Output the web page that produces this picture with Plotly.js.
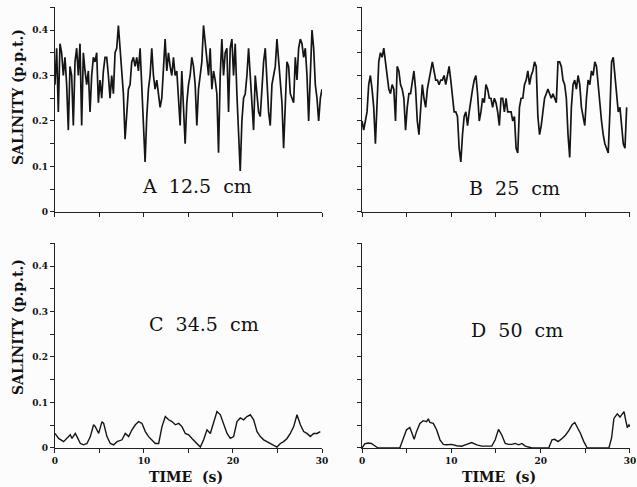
<!DOCTYPE html>
<html>
<head>
<meta charset="utf-8">
<script src="https://cdn.plot.ly/plotly-3.0.1.min.js"></script>
<style>
html,body{margin:0;padding:0;background:#fcfcfc;}
#chart{width:637px;height:487px;}
</style>
</head>
<body>
<div id="chart"></div>
<script>
// Panel labels
var panelLabels = ["A  12.5  cm", "B  25  cm", "C  34.5  cm", "D  50  cm"];
var xTitle = "TIME  (s)";
var yTitle = "SALINITY (p.p.t.)";

// A: 12.5 cm, sampled every 0.1875 s from t = 0
var salinityA = [
0.28,0.36,0.22,0.37,0.35,0.30,0.34,0.28,0.18,0.32,
0.30,0.19,0.33,0.36,0.30,0.37,0.19,0.35,0.31,0.28,
0.31,0.22,0.30,0.34,0.33,0.35,0.24,0.29,0.25,0.31,
0.34,0.34,0.30,0.25,0.30,0.26,0.35,0.36,0.41,0.36,
0.29,0.26,0.16,0.22,0.27,0.28,0.33,0.34,0.32,0.34,
0.31,0.36,0.28,0.20,0.11,0.21,0.27,0.30,0.36,0.30,
0.27,0.29,0.26,0.23,0.25,0.33,0.38,0.31,0.35,0.32,
0.30,0.34,0.30,0.31,0.25,0.19,0.31,0.22,0.15,0.24,
0.28,0.30,0.34,0.32,0.28,0.19,0.27,0.30,0.33,0.41,
0.37,0.34,0.30,0.36,0.27,0.31,0.29,0.26,0.13,0.30,
0.38,0.30,0.35,0.36,0.22,0.36,0.38,0.30,0.37,0.26,
0.16,0.09,0.20,0.25,0.26,0.30,0.36,0.30,0.24,0.18,
0.30,0.26,0.22,0.21,0.28,0.33,0.36,0.27,0.22,0.19,
0.28,0.30,0.32,0.38,0.33,0.27,0.24,0.14,0.25,0.33,
0.32,0.26,0.25,0.24,0.34,0.29,0.36,0.38,0.37,0.34,
0.36,0.30,0.20,0.30,0.40,0.36,0.28,0.25,0.20,0.25,
0.27];

// B: 25 cm, sampled every 0.1875 s from t = 0
var salinityB = [
0.20,0.18,0.20,0.22,0.28,0.30,0.27,0.23,0.15,0.25,
0.33,0.35,0.34,0.36,0.33,0.31,0.27,0.26,0.28,0.27,
0.20,0.32,0.31,0.28,0.27,0.25,0.18,0.23,0.26,0.26,
0.29,0.31,0.27,0.20,0.17,0.23,0.28,0.25,0.23,0.27,
0.29,0.31,0.33,0.31,0.29,0.29,0.28,0.29,0.29,0.30,
0.28,0.30,0.32,0.29,0.25,0.22,0.22,0.21,0.14,0.11,
0.17,0.21,0.22,0.19,0.22,0.25,0.27,0.29,0.30,0.26,
0.20,0.22,0.25,0.24,0.28,0.27,0.25,0.25,0.23,0.25,
0.24,0.22,0.19,0.25,0.25,0.22,0.25,0.22,0.22,0.22,
0.20,0.21,0.14,0.13,0.23,0.25,0.25,0.28,0.29,0.31,
0.28,0.30,0.31,0.33,0.32,0.21,0.17,0.19,0.22,0.25,
0.26,0.27,0.26,0.25,0.26,0.25,0.24,0.33,0.33,0.32,
0.29,0.28,0.25,0.17,0.12,0.23,0.28,0.29,0.27,0.30,
0.28,0.23,0.21,0.19,0.25,0.29,0.28,0.31,0.30,0.33,
0.32,0.28,0.23,0.20,0.17,0.15,0.14,0.13,0.22,0.33,
0.34,0.30,0.26,0.22,0.23,0.19,0.15,0.14,0.23];

// C: 34.5 cm
var timeC = [0.0,0.41,0.97,1.35,1.72,1.91,2.28,2.47,2.85,3.22,3.60,3.97,4.34,4.53,4.91,5.28,5.47,5.84,6.22,6.59,
6.97,7.53,7.90,8.28,8.65,9.03,9.40,9.78,10.15,10.52,10.90,11.27,11.65,12.02,12.40,12.77,13.15,13.52,13.90,14.27,
14.64,15.02,15.39,15.77,16.14,16.33,16.70,17.08,17.45,17.83,18.20,18.58,18.95,19.33,19.70,20.07,20.45,20.82,21.20,21.57,
21.95,22.32,22.70,23.07,23.45,23.82,24.19,24.57,24.94,25.32,25.69,26.07,26.44,26.82,27.19,27.57,27.94,28.31,28.69,29.06,
29.44,29.81];
var salinityC = [0.032,0.021,0.014,0.021,0.029,0.021,0.032,0.025,0.010,0.007,0.010,0.025,0.051,0.047,0.032,0.058,0.054,0.025,0.010,0.007,
0.014,0.018,0.032,0.025,0.040,0.051,0.058,0.054,0.036,0.025,0.018,0.010,0.010,0.047,0.069,0.062,0.058,0.051,0.054,0.047,
0.032,0.029,0.021,0.014,0.007,0.002,0.018,0.040,0.032,0.058,0.080,0.073,0.054,0.032,0.021,0.025,0.058,0.066,0.062,0.069,
0.073,0.062,0.036,0.025,0.018,0.014,0.010,0.007,0.002,0.010,0.014,0.021,0.032,0.047,0.073,0.051,0.036,0.032,0.025,0.032,
0.032,0.036];

// D: 50 cm
var timeD = [0.0,0.30,0.67,1.05,1.42,1.80,4.23,4.61,4.98,5.36,5.54,5.84,6.10,6.48,6.85,7.23,7.42,7.60,7.98,8.35,
8.73,9.10,9.48,10.04,10.60,11.16,11.72,12.28,12.85,13.41,14.53,14.91,15.28,15.66,16.03,16.40,16.78,17.15,17.53,17.90,
18.28,19.03,20.90,21.27,21.57,21.95,22.40,22.77,23.15,23.52,23.82,24.08,24.46,24.83,25.21,27.64,27.94,28.20,28.58,28.88,
29.14,29.33,29.51,29.70,29.89,30.0];
var salinityD = [0.0,0.009,0.011,0.010,0.005,0.0,0.0,0.020,0.040,0.045,0.036,0.019,0.036,0.054,0.060,0.058,0.064,0.056,0.054,0.040,
0.018,0.008,0.007,0.008,0.005,0.004,0.008,0.012,0.007,0.004,0.004,0.018,0.041,0.028,0.010,0.008,0.008,0.010,0.007,0.010,
0.004,0.0,0.0,0.018,0.019,0.014,0.021,0.028,0.038,0.051,0.056,0.047,0.032,0.014,0.0,0.0,0.022,0.065,0.075,0.068,
0.076,0.080,0.062,0.045,0.051,0.047];

var lineStyle = {color:'#151515', width:1.7, shape:'linear'};
var lineStyleLow = {color:'#151515', width:1.4, shape:'linear'};

var traces = [
  {type:'scatter', mode:'lines', y:salinityA, x0:0, dx:0.1875, xaxis:'x', yaxis:'y', line:lineStyle},
  {type:'scatter', mode:'lines', y:salinityB, x0:0, dx:0.1875, xaxis:'x2', yaxis:'y2', line:lineStyle},
  {type:'scatter', mode:'lines', x:timeC, y:salinityC, xaxis:'x3', yaxis:'y3', line:lineStyleLow},
  {type:'scatter', mode:'lines', x:timeD, y:salinityD, xaxis:'x4', yaxis:'y4', line:lineStyleLow}
];

var tickFont = {family:'DejaVu Serif', size:9, color:'#111', weight:'bold'};
function xAx(dom, anchor, labels){
  return {domain:dom, anchor:anchor, range:[0,30], showline:true, linecolor:'#222', linewidth:1.2,
    showgrid:false, zeroline:false, ticks:'outside', ticklen:4, tickwidth:1, tickcolor:'#222',
    dtick:10, tick0:0, showticklabels:labels, tickfont:tickFont,
    minor:{dtick:5, tick0:0, ticks:'outside', ticklen:4, tickwidth:1, tickcolor:'#222'}};
}
function yAx(dom, anchor, labels){
  return {domain:dom, anchor:anchor, range:[0,0.45], showline:true, linecolor:'#222', linewidth:1.2,
    showgrid:false, zeroline:false, ticks:'outside', ticklen:4, tickwidth:1, tickcolor:'#222',
    dtick:0.1, tick0:0, showticklabels:labels, tickfont:tickFont,
    minor:{dtick:0.05, tick0:0, ticks:'outside', ticklen:4, tickwidth:1, tickcolor:'#222'}};
}

var leftDom = [0.0863, 0.5055], rightDom = [0.5683, 0.989];
var topDom = [0.5647, 0.9851], botDom = [0.0801, 0.5005];

var labelFont = {family:'DejaVu Serif', size:19, color:'#111'};
var titleFont = {family:'DejaVu Serif', size:14, color:'#111', weight:'bold'};

function ann(x, y, text, font, angle){
  return {xref:'paper', yref:'paper', x:x/637, y:1-y/487, xanchor:'center', yanchor:'middle',
    text:text, textangle:angle||0, showarrow:false, font:font};
}

var layout = {
  width:637, height:487,
  margin:{l:0, r:0, t:0, b:0},
  paper_bgcolor:'#fcfcfc', plot_bgcolor:'rgba(0,0,0,0)',
  showlegend:false,
  xaxis: xAx(leftDom, 'y', false),
  yaxis: yAx(topDom, 'x', true),
  xaxis2: xAx(rightDom, 'y2', false),
  yaxis2: yAx(topDom, 'x2', false),
  xaxis3: xAx(leftDom, 'y3', true),
  yaxis3: yAx(botDom, 'x3', true),
  xaxis4: xAx(rightDom, 'y4', true),
  yaxis4: yAx(botDom, 'x4', false),
  annotations: [
    {xref:'x', yref:'y', x:16, y:0.057, xanchor:'center', yanchor:'middle', text:panelLabels[0], showarrow:false, font:labelFont},
    {xref:'x2', yref:'y2', x:17.1, y:0.052, xanchor:'center', yanchor:'middle', text:panelLabels[1], showarrow:false, font:labelFont},
    {xref:'x3', yref:'y3', x:16.7, y:0.272, xanchor:'center', yanchor:'middle', text:panelLabels[2], showarrow:false, font:labelFont},
    {xref:'x4', yref:'y4', x:17.4, y:0.26, xanchor:'center', yanchor:'middle', text:panelLabels[3], showarrow:false, font:labelFont},
    ann(18, 97, yTitle, titleFont, -90),
    ann(18, 327, yTitle, titleFont, -90),
    ann(186, 477, xTitle, titleFont),
    ann(499, 477, xTitle, titleFont)
  ]
};

Plotly.newPlot('chart', traces, layout, {staticPlot:true, displayModeBar:false});
</script>
</body>
</html>
